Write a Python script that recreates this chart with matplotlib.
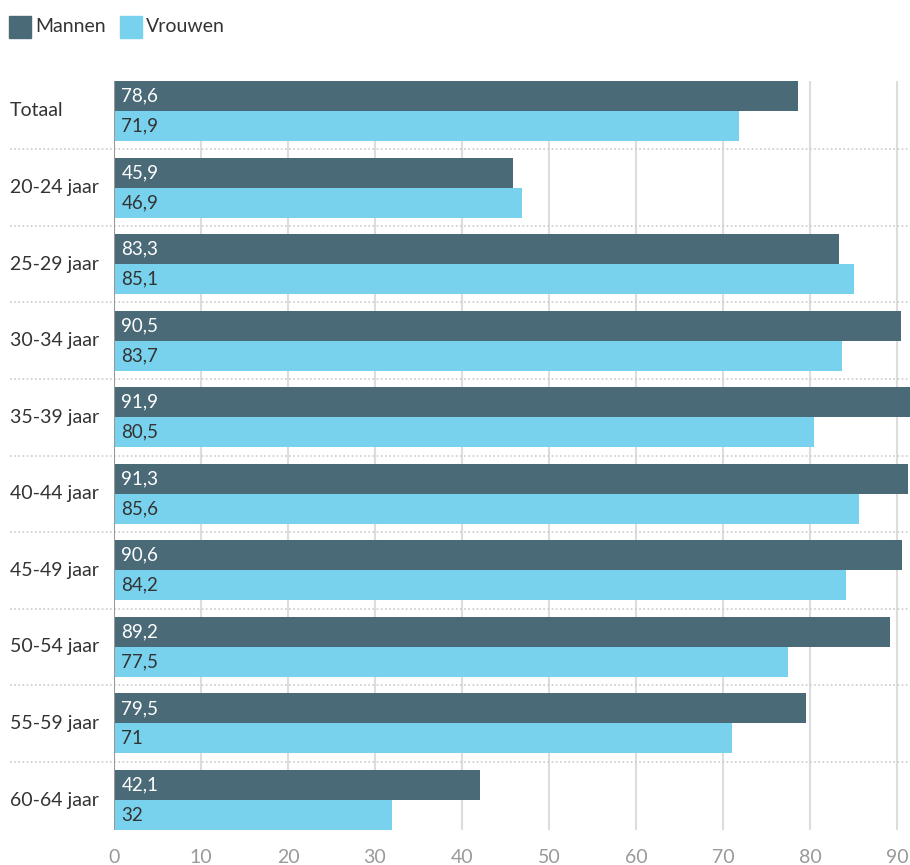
import numpy as np
import matplotlib.pyplot as plt
from matplotlib.patches import Rectangle
import matplotlib.transforms as mtransforms

plt.rcParams['font.family'] = ['Lato', 'DejaVu Sans']

categories = ['Totaal', '20-24 jaar', '25-29 jaar', '30-34 jaar', '35-39 jaar',
              '40-44 jaar', '45-49 jaar', '50-54 jaar', '55-59 jaar', '60-64 jaar']
mannen = [78.6, 45.9, 83.3, 90.5, 91.9, 91.3, 90.6, 89.2, 79.5, 42.1]
vrouwen = [71.9, 46.9, 85.1, 83.7, 80.5, 85.6, 84.2, 77.5, 71, 32]
xticks = [0, 10, 20, 30, 40, 50, 60, 70, 80, 90]

C_MAN = '#4a6a77'
C_VROUW = '#78d2ed'
TXT = '#333333'


def fmt(v):
    s = f'{v:g}'
    return s.replace('.', ',')


fig = plt.figure(figsize=(9.1, 8.65), dpi=100)
ax = fig.add_axes([114 / 910, 35 / 865, 796 / 910, 749 / 865])

n = len(categories)
y = np.arange(n)
h = 60 / 76.6 / 2

ax.barh(y - h / 2, mannen, height=h, color=C_MAN, zorder=3)
ax.barh(y + h / 2, vrouwen, height=h, color=C_VROUW, zorder=3)

for i in range(n):
    ax.text(0.85, y[i] - h / 2, fmt(mannen[i]), color='white', fontsize=13.5,
            va='center', ha='left', zorder=4)
    ax.text(0.85, y[i] + h / 2, fmt(vrouwen[i]), color=TXT, fontsize=13.5,
            va='center', ha='left', zorder=4)

trans = mtransforms.blended_transform_factory(ax.transAxes, ax.transData)
for i in range(n):
    ax.text(-104 / 796, y[i], categories[i], transform=trans, color=TXT,
            fontsize=14, va='center', ha='left')
for i in range(n - 1):
    ax.plot([-104 / 796, 1], [i + 0.5, i + 0.5], transform=trans,
            color='#cccccc', lw=1.2, ls=(0, (1, 1.5)), clip_on=False, zorder=2)

ax.set_xlim(0, 91.5)
ax.set_ylim(n - 1 + h, -h)
ax.set_xticks(xticks)
ax.set_yticks([])
ax.tick_params(axis='x', length=0, pad=14, labelsize=14, labelcolor='#999999')
for x in xticks[1:]:
    ax.axvline(x, color='#dddddd', lw=1.5, zorder=1)
ax.axvline(0, color='#999999', lw=1.5, zorder=5)
for s in ax.spines.values():
    s.set_visible(False)

# legend
fig.patches.append(Rectangle((9 / 910, 1 - 38 / 865), 22 / 910, 22 / 865,
                             transform=fig.transFigure, color=C_MAN))
fig.text(35 / 910, 1 - 27 / 865, 'Mannen', fontsize=14, color=TXT, va='center')
fig.patches.append(Rectangle((120 / 910, 1 - 38 / 865), 22 / 910, 22 / 865,
                             transform=fig.transFigure, color=C_VROUW))
fig.text(146 / 910, 1 - 27 / 865, 'Vrouwen', fontsize=14, color=TXT, va='center')

fig.savefig('out.png', dpi=100)
